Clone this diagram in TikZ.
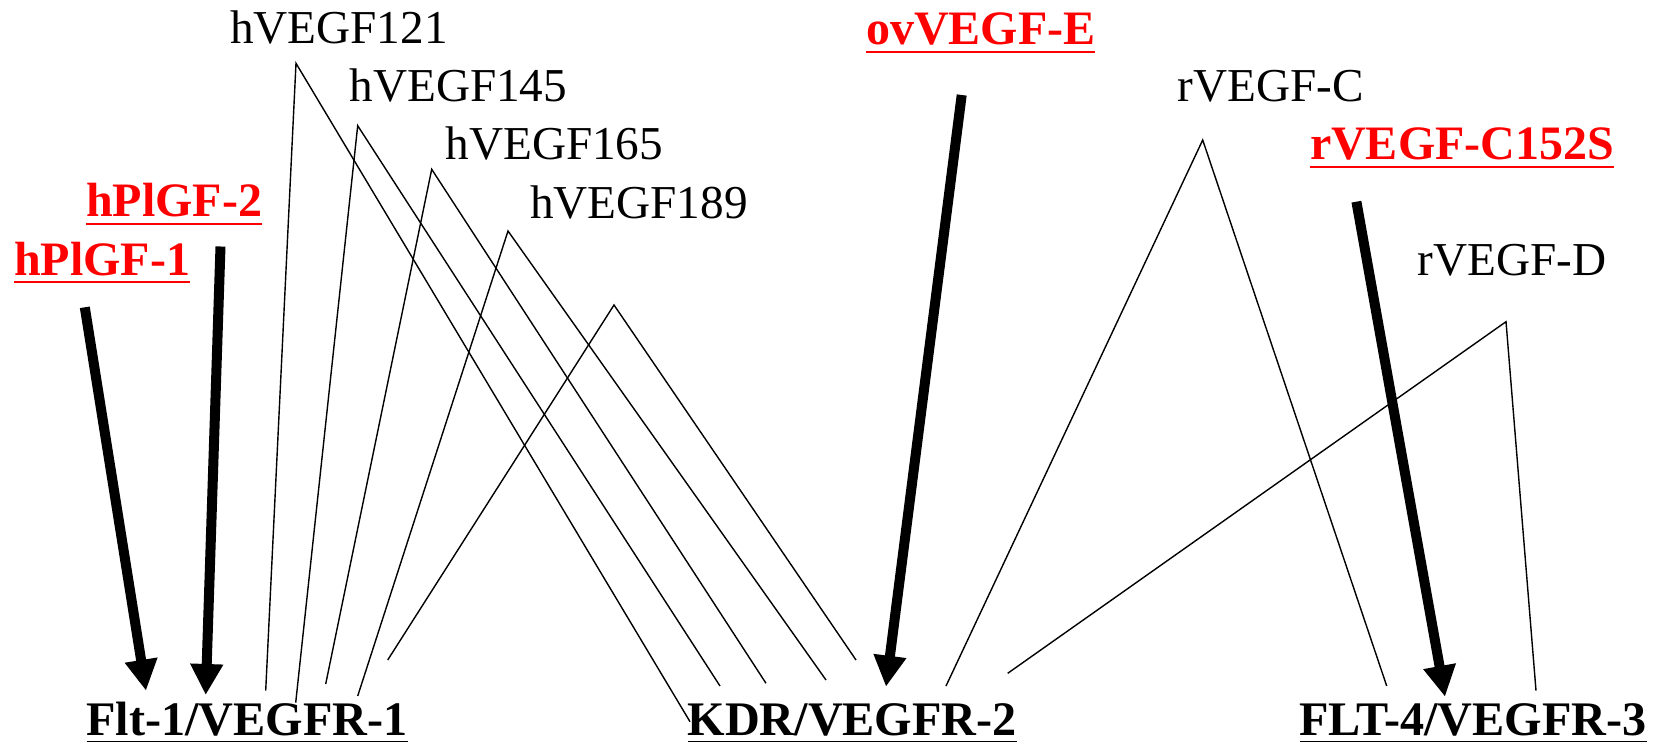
\documentclass[tikz,border=0pt]{standalone}
\usepackage{fontspec}
\setmainfont{Liberation Serif}
\usetikzlibrary{arrows.meta}
\definecolor{lblred}{RGB}{255,0,0}
\tikzset{
  lbl/.style={inner sep=0pt, outer sep=0pt, anchor=base west, font=\fontsize{47.2}{56}\selectfont},
  redlbl/.style={lbl, text=lblred, font=\fontsize{48}{56}\selectfont\bfseries},
  rcpt/.style={lbl, font=\fontsize{48.2}{56}\selectfont\bfseries},
  bindline/.style={line width=1.4pt, line join=miter},
  bigarrow/.style={line width=10pt, -{Triangle[length=31pt,width=31pt]}},
  ulred/.style={draw=lblred, line width=2pt},
  ulblack/.style={draw=black, line width=1.5pt},
}
\begin{document}
\begin{tikzpicture}[x=1pt,y=-1pt]
\useasboundingbox (0,0) rectangle (1661,743);

% ligand labels
\node[lbl] (v121) at (230,43.3) {hVEGF121};
\node[lbl] (v145) at (349.5,101.7) {hVEGF145};
\node[lbl] (v165) at (445.5,159.3) {hVEGF165};
\node[lbl] (v189) at (530,218.3) {hVEGF189};
\node[lbl] (vc) at (1177.5,101.7) {rVEGF-C};
\node[lbl] (vd) at (1417.5,276) {rVEGF-D};

\node[redlbl] (pl1) at (14,275) {hPlGF-1};
\node[redlbl] (pl2) at (86,216.7) {hPlGF-2};
\node[redlbl] (ve) at (866,44.3) {ovVEGF-E};
\node[redlbl] (vcs) at (1310,159.3) {rVEGF-C152S};

% receptor labels
\node[rcpt] (r1) at (86.5,735) {Flt-1/VEGFR-1};
\node[rcpt] (r2) at (687.5,735) {KDR/VEGFR-2};
\node[rcpt] (r3) at (1299.5,735) {FLT-4/VEGFR-3};

% underlines
\foreach \n in {pl1,pl2,ve,vcs}
  \draw[ulred] ([yshift=-7.3pt]\n.base west) -- ([yshift=-7.3pt]\n.base east);
\foreach \n in {r1,r2,r3}
  \draw[ulblack] ([yshift=-6.7pt]\n.base west) -- ([yshift=-6.7pt]\n.base east);

% peaks and ends of binding lines
\coordinate (p1) at (296,63.3);   \coordinate (L1) at (265.7,690.7); \coordinate (R1) at (690,721.7);
\coordinate (p2) at (357.7,125.7);\coordinate (L2) at (295.7,702.7); \coordinate (R2) at (720,686);
\coordinate (p3) at (431.7,169.3);\coordinate (L3) at (325.7,684);   \coordinate (R3) at (766,683.3);
\coordinate (p4) at (508,231);    \coordinate (L4) at (357.7,696);   \coordinate (R4) at (826,680);
\coordinate (p5) at (614,305);    \coordinate (L5) at (387.7,660);   \coordinate (R5) at (856,660);
\coordinate (pc) at (1202.7,140); \coordinate (Lc) at (946,686);     \coordinate (Rc) at (1386.7,686);
\coordinate (pd) at (1506,321.7); \coordinate (Ld) at (1007.7,673.3);\coordinate (Rd) at (1536,690.7);

\foreach \k in {1,2,3,4,5,c,d}
  \draw[bindline] (L\k) -- (p\k) -- (R\k);

% thick arrows
\coordinate (a1s) at (84.8,307.3);  \coordinate (a1e) at (146,690.7);
\coordinate (a2s) at (220.5,246.5); \coordinate (a2e) at (205.7,695);
\coordinate (a3s) at (961.7,95);    \coordinate (a3e) at (886,686.7);
\coordinate (a4s) at (1356.4,201.7);\coordinate (a4e) at (1445,696.7);
\foreach \k in {1,2,3,4}
  \draw[bigarrow] (a\k s) -- (a\k e);
\end{tikzpicture}
\end{document}
